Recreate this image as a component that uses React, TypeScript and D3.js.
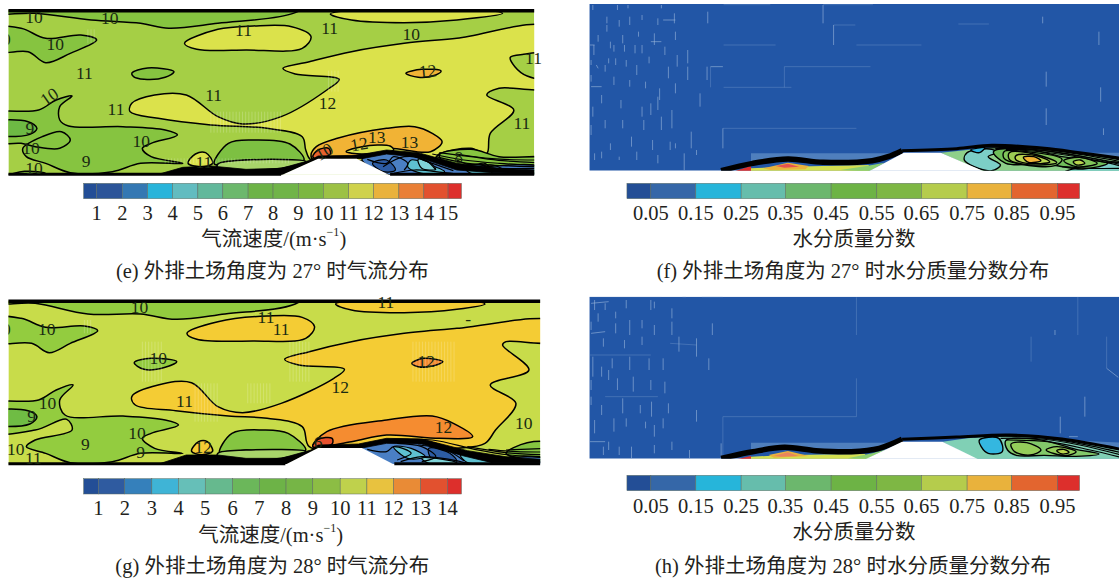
import React from "react";
import * as d3 from "d3";

type P = [number, number];
type R = { pts: P[]; fill: string; sw?: number; open?: boolean };

// Reading units: x 0..1565 maps to 550 px, y 0..870 maps to 290 px
const xS = d3.scaleLinear().domain([0, 1565]).range([0, 550]);
const yS = d3.scaleLinear().domain([0, 870]).range([0, 290]);

const serif = "'Liberation Serif','Noto Sans CJK SC',serif";
const ink = "#231f20";

const speedTicksE = ["1","2","3","4","5","6","7","8","9","10","11","12","13","14","15"];
const speedTicksG = ["1","2","3","4","5","6","7","8","9","10","11","12","13","14"];
const waterTicks = ["0.05","0.15","0.25","0.35","0.45","0.55","0.65","0.75","0.85","0.95"];

const barEdgesE = [238,275,348,420,491,563,634,706,777,849,920,992,1063,1135,1206,1275,1313];
const barEdgesG = [238,280,355,432,508,584,662,738,814,890,968,1044,1120,1197,1273,1313];
const barEdgesW = [162,230,358,487,613,743,873,1000,1130,1257,1387,1450];

const barColorsE = ["#234e96","#2c5599","#3478b3","#28b4da","#62bcc0","#62b89b","#6cb86c","#6db347","#70b448","#7cb742","#9cc145","#cfd24c","#e9b23c","#e97f36","#e2512f","#dd2f2c"];
const barColorsG = ["#234e96","#2f5ba0","#3580bb","#3fb4d6","#66bfb8","#66b98e","#6bb75a","#6db347","#76b546","#8cbd44","#bfd14c","#e8c23f","#e98b36","#e2512f","#dd2f2c"];
const barColorsW = ["#234e96","#3567a8","#26b5da","#66bdac","#6cb76d","#6db345","#7eb744","#b5cc4c","#e9b23c","#e3652f","#dd2f2c"];

// Panel (e) regions
const regionsE: R[] = [
  { fill: "#86c440", pts: [[-30,-10],[-30,35],[100,40],[260,60],[400,70],[480,85],[620,70],[840,38],[900,-10]] },
  { fill: "#86c440", pts: [[-30,85],[60,85],[130,115],[230,105],[275,120],[200,160],[130,188],[80,155],[-30,155]] },
  { fill: "#dbe24b", pts: [[525,130],[620,88],[720,78],[830,80],[885,110],[860,145],[700,150],[560,148]] },
  { fill: "#dbe24b", pts: [[940,42],[1000,60],[1150,68],[1300,60],[1430,40],[1200,20]] },
  { fill: "#dbe24b", pts: [[1570,85],[1300,115],[1150,130],[1000,155],[880,185],[805,205],[840,222],[965,238],[930,270],[800,350],[690,372],[620,350],[530,285],[440,285],[375,310],[370,335],[450,355],[600,375],[760,385],[860,410],[870,450],[885,480],[1000,482],[1230,482],[1250,462],[1340,445],[1385,460],[1395,400],[1462,330],[1385,285],[1420,265],[1570,258]] },
  { fill: "#a5cf45", pts: [[1452,172],[1490,163],[1570,163],[1570,235],[1500,228],[1465,200]] },
  { fill: "#f1b335", pts: [[885,465],[900,440],[960,415],[1100,385],[1180,380],[1230,400],[1258,425],[1225,455],[1100,445],[1000,470],[890,478]] },
  { fill: "#e8622d", pts: [[890,470],[905,450],[935,445],[940,462],[900,476]] },
  { fill: "#f1b335", pts: [[1155,220],[1200,208],[1255,213],[1240,225],[1190,232]] },
  { fill: "#dbe24b", pts: [[985,455],[1030,440],[1110,438],[1120,450],[1030,462]] },
  { fill: "#86c440", pts: [[375,220],[420,204],[495,215],[470,232],[410,238],[380,230]] },
  { fill: "#86c440", pts: [[-30,345],[110,330],[160,300],[205,288],[170,320],[170,360],[195,378],[350,380],[470,390],[505,405],[430,430],[405,445],[430,470],[520,490],[400,490],[320,515],[200,518],[130,490],[75,470],[65,445],[120,410],[175,395],[200,420],[170,445],[100,440],[60,430],[-30,425]] },
  { fill: "#6db944", pts: [[-30,370],[80,365],[105,385],[85,403],[-30,400]] },
  { fill: "#7dc042", pts: [[610,492],[650,430],[720,420],[825,432],[865,480],[800,488],[700,480]] },
  { fill: "#a8d56a", pts: [[620,492],[700,480],[870,484],[800,505],[620,505]] },
  { fill: "#dbe24b", pts: [[535,490],[556,462],[585,458],[605,490],[570,500]] },
  { fill: "#86c440", pts: [[20,528],[70,514],[130,520],[90,534]] },
  { fill: "#86c440", pts: [[1250,465],[1340,448],[1420,470],[1570,478],[1570,510],[1300,510]] },
];

// Panel (g) regions
const regionsG: R[] = [
  { fill: "#93cc3f", pts: [[-30,-10],[-30,35],[100,40],[250,72],[400,72],[500,88],[640,72],[840,42],[900,-10]] },
  { fill: "#93cc3f", pts: [[-30,85],[60,85],[130,112],[240,108],[278,122],[200,160],[140,188],[90,160],[-30,155]] },
  { fill: "#f4cc34", pts: [[955,42],[1000,60],[1150,68],[1300,58],[1380,42],[1200,20]] },
  { fill: "#f4cc34", pts: [[532,130],[620,95],[760,78],[860,82],[895,110],[870,145],[720,153],[560,148]] },
  { fill: "#f4cc34", pts: [[1580,95],[1300,115],[1150,130],[1000,155],[880,185],[810,208],[850,225],[980,238],[950,265],[800,340],[690,368],[620,350],[545,278],[450,285],[375,320],[385,345],[500,362],[650,378],[760,385],[860,410],[880,470],[1000,478],[1300,475],[1380,460],[1410,420],[1468,340],[1395,285],[1505,240],[1430,165],[1440,155],[1580,153]] },
  { fill: "#f58c30", pts: [[890,470],[930,425],[1100,390],[1230,378],[1290,400],[1345,440],[1250,445],[1100,435],[1000,455]] },
  { fill: "#e8512e", pts: [[890,470],[905,448],[945,445],[945,462]] },
  { fill: "#f58c30", pts: [[1172,220],[1205,205],[1260,215],[1230,228],[1190,230]] },
  { fill: "#93cc3f", pts: [[382,218],[430,205],[503,215],[470,232],[410,238]] },
  { fill: "#93cc3f", pts: [[-30,345],[110,330],[160,300],[208,285],[170,330],[185,375],[350,378],[470,390],[508,405],[430,430],[405,445],[440,475],[520,490],[400,490],[320,515],[200,518],[130,490],[75,470],[100,450],[205,420],[190,388],[100,420],[-30,425]] },
  { fill: "#6fbc44", pts: [[-30,368],[80,362],[105,380],[85,402],[-30,400]] },
  { fill: "#85c541", pts: [[625,490],[660,430],[750,420],[820,430],[870,480],[800,488],[700,480]] },
  { fill: "#a8d56a", pts: [[620,490],[700,480],[870,484],[800,505],[620,505]] },
  { fill: "#f4cc34", pts: [[545,484],[565,455],[590,455],[605,484],[575,494]] },
  { fill: "#85c541", pts: [[1440,490],[1500,458],[1570,462],[1570,510]] },
];

// Blue wake behind the ridge, both speed panels
const wakeE: R[] = [
  { fill: "#4a7fc4", pts: [[1030,478],[1100,458],[1220,470],[1300,500],[1530,500],[1530,525],[1110,525]] },
  { fill: "#5ec0d0", pts: [[1170,480],[1210,490],[1265,515],[1200,520],[1160,500]] },
  { fill: "#2d5ca3", pts: [[1060,490],[1100,480],[1125,510],[1090,515]] },
  { fill: "#7fd3d8", pts: [[1190,478],[1225,490],[1240,508],[1200,505]] },
  { fill: "#5ec0d0", pts: [[1320,500],[1370,495],[1400,520],[1340,520]] },
];
const wakeG: R[] = [
  { fill: "#4a7fc4", pts: [[1030,475],[1100,450],[1220,455],[1330,490],[1400,505],[1545,505],[1545,525],[1120,525]] },
  { fill: "#5ec0d0", pts: [[1120,470],[1170,475],[1210,500],[1160,505]] },
  { fill: "#2d5ca3", pts: [[1220,475],[1280,490],[1300,515],[1230,510]] },
  { fill: "#5ec0d0", pts: [[1310,495],[1360,500],[1400,518],[1330,518]] },
  { fill: "#7fd3d8", pts: [[1200,505],[1260,508],[1300,518],[1220,520]] },
];

// Black mass where the contours pile up along the floor
const wedgeE: P[] = [[440,526],[520,502],[600,498],[700,508],[800,505],[885,480],[905,468],[1015,466],[1100,450],[1190,458],[1300,490],[1420,505],[1530,510],[1530,520],[1400,518],[1300,510],[1190,472],[1100,462],[1030,476],[905,476],[800,526]];
const wedgeG: P[] = [[440,526],[530,495],[620,495],[700,505],[800,505],[885,480],[905,465],[1020,462],[1100,445],[1200,447],[1330,482],[1450,502],[1540,508],[1540,518],[1400,518],[1320,498],[1200,462],[1100,460],[1030,474],[905,474],[810,526]];

// Contour polylines near the wall
const linesE: P[][] = [
  [[1230,462],[1320,480],[1420,490],[1530,496]],
  [[1250,458],[1340,470],[1430,482],[1530,488]],
  [[1300,462],[1400,476],[1530,480]],
  [[1280,495],[1350,500],[1420,505],[1530,505]],
  [[1240,470],[1330,490],[1430,497],[1530,500]],
  [[1045,478],[1100,490],[1120,470],[1160,490],[1150,510]],
  [[1090,500],[1150,470],[1210,480],[1240,510]],
  [[1180,470],[1230,490],[1290,512]],
  [[1300,480],[1340,495],[1380,490],[1400,512]],
  [[1120,520],[1180,510],[1240,515],[1300,522]],
  [[1345,505],[1400,495],[1440,512]],
];
const linesG: P[][] = [
  [[1100,452],[1230,450],[1350,478],[1450,495],[1540,502]],
  [[1330,470],[1440,488],[1540,494]],
  [[1390,478],[1470,485],[1540,486]],
  [[1440,480],[1540,476]],
  [[1045,478],[1100,485],[1120,470],[1170,490],[1130,510]],
  [[1130,460],[1200,470],[1240,500],[1200,515]],
  [[1190,465],[1270,480],[1320,512]],
  [[1260,470],[1300,490],[1360,495],[1390,515]],
  [[1340,495],[1400,500],[1450,515]],
  [[1420,505],[1480,498],[1540,500]],
  [[1140,515],[1200,500],[1280,508],[1330,520]],
];

const labelsE: [string, number, number, number?][] = [
  ["10",97,50],["10",312,55],["10",157,133],["11",693,90],["11",938,85],["10",1170,103],["11",240,218],["11",608,284],["11",330,328],["11",1485,368],["11",1518,175],["12",932,310],["12",1217,213,-5],["13",1072,410],["13",1165,425],["12",1022,432,-10],["10",402,422],["10",88,443],["10",97,503],["10",140,290,-35],["9",85,384],["9",245,482],["11",580,485],["10",922,455,-30],["8",1305,470],
];
const labelsG: [string, number, number, number?][] = [
  ["10",397,50],["10",133,117],["11",757,80],["11",800,117],["11",1098,37],["10",450,205],["12",1213,213],["12",968,290],["11",525,332],["10",135,338],["9",90,378],["10",390,430],["9",243,463],["9",400,487],["10",45,476],["11",95,505],["12",578,472],["12",1262,412],["10",1490,398],["-",1332,86],["6",905,455],
];
const clippedLabelE: [string, number, number, number?][] = [["0",18,118]];
const clippedLabelG: [string, number, number, number?][] = [["0",18,118]];

// Pale mesh hatch blocks (u0, v0, u1, v1) in speed panels
const hatchE: number[][] = [[600,335,800,398],[935,212,965,275],[250,88,270,130],[470,475,830,490]];
const hatchG: number[][] = [[405,155,460,275],[555,280,625,395],[705,280,775,340],[825,155,880,275],[1175,155,1300,275],[240,90,265,130]];

// Mesh traces in the water panels: u0, v0, u1, v1
const meshF: number[][] = [
  [720,15,720,70],[720,14,862,14],[437,14,570,14],[750,75,812,75],[750,75,750,135],[815,135,1000,135],[437,135,585,135],[610,200,855,200],[610,200,610,262],[437,262,630,262],[400,200,435,200],[400,200,400,262],[435,385,815,385],[435,385,435,445],[1105,72,1192,72],[1355,215,1355,260],[1510,262,1510,305],[1505,95,1505,135],[1355,325,1355,375],[1345,50,1345,70],[1518,385,1518,405],
  [240,100,240,135],[230,310,230,345],[297,40,297,70],[392,35,392,70],[335,150,335,190],[185,135,185,160],[155,135,155,155],[125,135,125,155],[68,135,68,165],[105,50,105,70],[170,50,170,75],[265,60,300,60],[100,195,100,215],[190,195,190,225],[280,200,280,235],[335,200,335,240],[390,200,390,240],[255,265,255,300],[370,280,370,320],[205,320,205,350],[290,330,290,385],[100,360,100,385],[150,360,150,385],[210,360,210,390],[260,350,260,390],[345,395,345,445],[115,430,115,450],[190,455,190,480],[325,460,325,510],[70,460,70,480],[140,470,140,480],[55,135,70,135],[60,260,90,260],[65,320,65,350],[130,175,130,195],[160,180,160,200],[75,195,80,205],[230,125,260,125],
  [65,15,65,30],[135,15,135,30],[165,15,165,25],[260,15,260,25],[105,75,105,95],[140,60,140,80],[205,45,205,60],[300,95,300,120],[80,105,80,125],[150,105,150,130],[205,135,205,160],[270,140,270,165],[110,175,110,190],[60,180,60,195],[225,170,225,190],[305,165,305,200],[125,230,125,255],[170,240,170,260],[60,225,60,245],[215,245,215,265],[300,250,300,280],[90,285,90,310],[145,300,145,325],[250,290,250,330],[60,375,60,405],[175,410,175,440],[235,420,235,450],[285,425,285,450],[90,455,90,475],[250,465,250,490],[300,430,300,445],[195,95,195,110],[250,55,250,75],[115,125,115,145],[360,450,360,465],
];
const meshH: number[][] = [
  [815,22,815,135],[815,265,815,380],[435,380,815,380],[435,380,435,500],[1445,20,1445,135],[1312,140,1312,215],[1527,140,1527,235],[1395,380,1395,430],[1465,320,1465,380],[1380,120,1380,135],[1527,235,1560,262],[1420,440,1445,440],
  [170,90,170,135],[290,95,290,135],[405,100,405,135],[310,140,310,185],[360,145,360,200],[65,200,65,260],[170,200,170,240],[55,195,230,195],[110,240,110,270],[180,260,180,305],[270,275,270,310],[60,320,60,345],[100,320,250,320],[150,325,150,370],[232,335,232,380],[125,385,125,425],[240,405,240,440],[70,390,70,430],[175,470,175,505],[110,455,110,480],[340,480,340,505],[430,460,430,505],[360,360,360,395],[230,30,230,60],[70,30,70,60],[130,100,130,130],[60,130,100,125],[285,160,360,165],[60,40,110,35],[55,20,260,20],[320,20,330,20],[375,20,435,20],
  [100,40,100,60],[160,30,160,55],[240,35,240,55],[290,55,290,85],[80,70,80,95],[130,65,130,85],[60,95,60,120],[205,90,205,115],[240,105,240,135],[95,145,95,170],[155,150,155,175],[205,140,205,165],[120,205,120,235],[225,205,225,240],[265,205,265,240],[90,230,90,260],[135,265,135,300],[230,270,230,300],[60,270,60,300],[90,345,90,375],[200,345,200,370],[280,340,280,370],[160,385,160,410],[215,395,215,415],[265,385,265,415],[95,470,95,495],[140,470,140,495],[240,465,240,490],[290,455,290,480],[55,455,100,455],[395,205,395,240],
];

const bandF: R[] = [
  { fill: "#4f7fbd", pts: [[515,460],[920,460],[860,482],[720,487],[620,477],[515,492]] },
  { fill: "#4f7fbd", pts: [[1400,458],[1568,458],[1568,480],[1400,450]] },
  { fill: "#d4df50", pts: [[515,505],[620,500],[850,495],[850,515],[515,515]] },
  { fill: "#8dcf70", pts: [[770,510],[860,495],[895,488],[850,515]] },
  { fill: "#dd2f2c", pts: [[465,515],[515,498],[515,515]] },
  { fill: "#e9b23c", pts: [[550,505],[620,488],[680,498],[670,508],[570,510]] },
  { fill: "#e8524f", pts: [[585,498],[620,491],[652,500],[610,503]] },
  { fill: "#8ed08a", pts: [[1055,458],[1130,450],[1250,437],[1400,450],[1568,480],[1568,515],[1175,515]] },
];
const wetF: R[] = [
  { fill: "#7ccfc7", pts: [[1130,458],[1200,448],[1215,458],[1190,470],[1225,495],[1200,512],[1150,500],[1122,480]] },
  { fill: "#34b7e0", pts: [[1140,450],[1180,443],[1165,458]] },
  { fill: "#7ccfc7", pts: [[1480,495],[1568,490],[1568,520],[1400,520]] },
  { fill: "#6fbd5a", pts: [[1205,455],[1290,445],[1400,470],[1530,490],[1460,507],[1350,492],[1240,490]] },
  { fill: "#80c45a", pts: [[1235,455],[1300,455],[1400,478],[1380,497],[1280,492],[1235,475]] },
  { fill: "#9ccb52", pts: [[1250,458],[1320,462],[1385,488],[1300,494],[1250,478]] },
  { fill: "#b8d44e", pts: [[1270,466],[1330,468],[1365,486],[1300,490],[1268,478]] },
  { fill: "#f1b335", pts: [[1290,472],[1320,470],[1340,482],[1305,487]] },
  { fill: "#80c45a", pts: [[1405,482],[1450,472],[1500,490],[1440,500]] },
  { fill: "#b8d44e", pts: [[1432,485],[1452,480],[1465,490],[1442,495]] },
];
const wallFLeft: P[] = [[430,512],[520,490],[620,477],[720,487],[860,482],[905,470],[945,452]];
const wallFRight: P[] = [[945,452],[1100,446],[1200,436],[1350,445],[1450,458],[1568,475]];
const fanF: P[][] = [
  [[1130,443],[1250,440],[1400,452],[1568,480]],
  [[1180,445],[1290,443],[1420,458],[1568,485]],
  [[1210,446],[1320,448],[1450,468],[1568,490]],
  [[1240,448],[1350,452],[1480,474],[1568,494]],
  [[1280,450],[1390,462],[1500,482],[1568,498]],
  [[1400,500],[1480,505],[1568,505]],
];

const bandH: R[] = [
  { fill: "#4f7fbd", pts: [[515,458],[915,458],[880,475],[800,485],[700,482],[610,472],[515,485]] },
  { fill: "#4f7fbd", pts: [[1400,450],[1568,458],[1568,478]] },
  { fill: "#d4df50", pts: [[515,500],[620,495],[840,492],[840,510],[515,510]] },
  { fill: "#8dcf70", pts: [[790,505],[860,490],[900,478],[840,510]] },
  { fill: "#dd2f2c", pts: [[465,510],[515,498],[515,510]] },
  { fill: "#e9b23c", pts: [[565,495],[620,483],[680,498],[580,503]] },
  { fill: "#e9855c", pts: [[580,497],[620,487],[650,498],[600,500]] },
  { fill: "#80d0b5", pts: [[1060,455],[1130,445],[1250,435],[1400,447],[1568,478],[1568,510],[1160,510]] },
];
const wetH: R[] = [
  { fill: "#34b7e0", pts: [[1165,450],[1220,445],[1230,485],[1190,490],[1170,470]] },
  { fill: "#82c86a", pts: [[1240,452],[1330,448],[1440,478],[1505,492],[1440,499],[1350,496],[1270,496],[1245,480]] },
  { fill: "#94cd5a", pts: [[1255,462],[1300,458],[1340,480],[1310,495],[1265,485]] },
  { fill: "#94cd5a", pts: [[1355,480],[1385,470],[1440,485],[1410,497]] },
  { fill: "#b8d44e", pts: [[1385,482],[1405,478],[1420,487],[1400,492]] },
];
const wallHLeft: P[] = [[430,505],[520,485],[610,472],[700,482],[800,485],[880,475],[945,448]];
const wallHRight: P[] = [[945,448],[1100,441],[1250,435],[1400,447],[1568,478]];
const fanH: P[][] = [
  [[1150,440],[1300,440],[1420,455],[1568,488]],
  [[1225,445],[1340,447],[1450,465],[1568,495]],
  [[1240,450],[1360,455],[1480,480],[1568,502]],
];

const closed = d3.line<P>().x(d => xS(d[0])).y(d => yS(d[1])).curve(d3.curveCatmullRomClosed.alpha(0.5));
const open = d3.line<P>().x(d => xS(d[0])).y(d => yS(d[1])).curve(d3.curveCatmullRom.alpha(0.5));
const poly = d3.line<P>().x(d => xS(d[0])).y(d => yS(d[1]));

function Regions({ items, sw = 1.5 }: { items: R[]; sw?: number }) {
  return <>{items.map((r, i) => <path key={i} d={closed(r.pts) || ""} fill={r.fill} stroke="#000" strokeWidth={sw} strokeLinejoin="round" />)}</>;
}

function Labels({ items }: { items: [string, number, number, number?][] }) {
  return <>{items.map(([t, u, v, rot], i) => (
    <text key={i} x={xS(u)} y={yS(v)} transform={rot ? `rotate(${rot} ${xS(u)} ${yS(v)})` : undefined} textAnchor="middle" dominantBaseline="central" fontSize={17.5} fontFamily={serif} fill="#1a2a12">{t}</text>
  ))}</>;
}

function Hatch({ items }: { items: number[][] }) {
  return <>{items.map((b, i) => d3.range(b[0], b[2], 9).map(u => (
    <line key={`${i}-${u}`} x1={xS(u)} x2={xS(u)} y1={yS(b[1])} y2={yS(b[3])} stroke="#fff" strokeOpacity={0.25} strokeWidth={0.8} />
  )))}</>;
}

function Mesh({ items }: { items: number[][] }) {
  return <>{items.map((m, i) => {
    const long = Math.abs(m[2] - m[0]) + Math.abs(m[3] - m[1]) > 60;
    return <line key={i} x1={xS(m[0])} y1={yS(m[1])} x2={xS(m[2])} y2={yS(m[3])} stroke="#9db8dc" strokeOpacity={long ? 0.3 : 0.65} strokeWidth={0.9} />;
  })}</>;
}

function ColorBar({ edges, colors, v0, v1, ticks, tickEdges, tv, titleV, capV, title, cap, cx, capCx }: any) {
  return (
    <g>
      {colors.map((c: string, i: number) => (
        <rect key={i} x={xS(edges[i])} y={yS(v0)} width={xS(edges[i + 1]) - xS(edges[i])} height={yS(v1) - yS(v0)} fill={c} stroke="#5b6a60" strokeWidth={0.5} />
      ))}
      {ticks.map((t: string, i: number) => (
        <text key={t} x={xS(edges[i + tickEdges])} y={yS(tv)} textAnchor="middle" dominantBaseline="central" fontSize={20.5} fontFamily={serif} fill={ink}>{t}</text>
      ))}
      <text x={xS(cx)} y={yS(titleV)} textAnchor="middle" dominantBaseline="central" fontSize={20.5} fontFamily={serif} fill={ink}>{title}</text>
      <text x={xS(capCx)} y={yS(capV)} textAnchor="middle" dominantBaseline="central" fontSize={20.5} fontFamily={serif} fill={ink}>{cap}</text>
    </g>
  );
}

const speedTitle = <>气流速度/(m·s<tspan dy="-7" fontSize={12}>−1</tspan><tspan dy="7">)</tspan></>;

function SpeedPanel({ id, oy, right, top, bottom, base, regions, wake, wedge, lines, labels, clipped, hatch, ridge, bar }: any) {
  return (
    <g transform={`translate(0,${oy})`}>
      <clipPath id={id}><rect x={xS(24)} y={yS(top)} width={xS(right) - xS(24)} height={yS(bottom) - yS(top)} /></clipPath>
      <g clipPath={`url(#${id})`}>
        <rect x={xS(24)} y={yS(top)} width={xS(right) - xS(24)} height={yS(bottom) - yS(top)} fill={base} />
        <Regions items={regions} />
        <Hatch items={hatch} />
        <Regions items={wake} sw={1.2} />
        {lines.map((l: P[], i: number) => <path key={i} d={open(l) || ""} fill="none" stroke="#000" strokeWidth={1.2} />)}
        <path d={poly(wedge) || ""} fill="#000" stroke="#000" strokeWidth={0.8} />
        <path d={poly(ridge) || ""} fill="#fff" />
        <Labels items={clipped} />
      </g>
      <line x1={xS(24)} x2={xS(right)} y1={yS(top + 2)} y2={yS(top + 2)} stroke="#000" strokeWidth={3.5} />
      <line x1={xS(24)} x2={xS(ridge[0][0])} y1={yS(bottom - 1)} y2={yS(bottom - 1)} stroke="#000" strokeWidth={3} />
      <line x1={xS(ridge[3][0])} x2={xS(right)} y1={yS(bottom - 1)} y2={yS(bottom - 1)} stroke="#000" strokeWidth={3} />
      <Labels items={labels} />
      <ColorBar {...bar} />
    </g>
  );
}

function WaterPanel({ id, oy, top, bottom, band, wet, wallLeft, wallRight, fan, mesh, ridge, bar }: any) {
  return (
    <g transform={`translate(570,${oy})`}>
      <clipPath id={id}><rect x={xS(55)} y={yS(top)} width={xS(1568) - xS(55)} height={yS(bottom) - yS(top)} /></clipPath>
      <g clipPath={`url(#${id})`}>
        <rect x={xS(55)} y={yS(top)} width={xS(1568) - xS(55)} height={yS(bottom) - yS(top)} fill="#2256a6" />
        <Mesh items={mesh} />
        {band.map((r: R, i: number) => <path key={i} d={poly(r.pts) || ""} fill={r.fill} stroke="none" />)}
        <Regions items={wet} sw={1.4} />
        {fan.map((l: P[], i: number) => <path key={i} d={open(l) || ""} fill="none" stroke="#000" strokeWidth={1.2} />)}
        <path d={open(wallLeft) || ""} fill="none" stroke="#000" strokeWidth={5.5} />
        <path d={open(wallRight) || ""} fill="none" stroke="#000" strokeWidth={3} />
        <path d={poly(ridge) || ""} fill="#fff" />
      </g>
      <ColorBar {...bar} />
    </g>
  );
}

export default function App() {
  return (
    <svg width={1119} height={583} style={{ position: "absolute", left: 0, top: 0, background: "#fff" }}>
      <SpeedPanel id="ce" oy={0} right={1520} top={30} bottom={524} base="#a5cf45" regions={regionsE} wake={wakeE} wedge={wedgeE} lines={linesE} labels={labelsE} clipped={clippedLabelE} hatch={hatchE}
        ridge={[[800,526],[905,476],[1015,476],[1110,526]]}
        bar={{ edges: barEdgesE, colors: barColorsE, v0: 550, v1: 596, ticks: speedTicksE, tickEdges: 1, tv: 640, titleV: 718, capV: 812, title: speedTitle, cap: "(e) 外排土场角度为 27° 时气流分布", cx: 779, capCx: 775 }} />
      <SpeedPanel id="cg" oy={290} right={1537} top={32} bottom={522} base="#c8dc4a" regions={regionsG} wake={wakeG} wedge={wedgeG} lines={linesG} labels={labelsG} clipped={clippedLabelG} hatch={hatchG}
        ridge={[[812,524],[905,474],[1030,474],[1122,524]]}
        bar={{ edges: barEdgesG, colors: barColorsG, v0: 566, v1: 612, ticks: speedTicksG, tickEdges: 1, tv: 655, titleV: 735, capV: 828, title: speedTitle, cap: "(g) 外排土场角度为 28° 时气流分布", cx: 770, capCx: 775 }} />
      <WaterPanel id="cf" oy={0} top={12} bottom={512} band={bandF} wet={wetF} wallLeft={wallFLeft} wallRight={wallFRight} fan={fanF} mesh={meshF}
        ridge={[[850,514],[950,458],[1055,458],[1178,514]]}
        bar={{ edges: barEdgesW, colors: barColorsW, v0: 550, v1: 596, ticks: waterTicks, tickEdges: 1, tv: 640, titleV: 718, capV: 812, title: "水分质量分数", cap: "(f) 外排土场角度为 27° 时水分质量分数分布", cx: 808, capCx: 805 }} />
      <WaterPanel id="ch" oy={290} top={20} bottom={506} band={bandH} wet={wetH} wallLeft={wallHLeft} wallRight={wallHRight} fan={fanH} mesh={meshH}
        ridge={[[840,508],[945,455],[1060,455],[1162,508]]}
        bar={{ edges: barEdgesW, colors: barColorsW, v0: 556, v1: 602, ticks: waterTicks, tickEdges: 1, tv: 648, titleV: 725, capV: 828, title: "水分质量分数", cap: "(h) 外排土场角度为 28° 时水分质量分数分布", cx: 808, capCx: 805 }} />
    </svg>
  );
}
